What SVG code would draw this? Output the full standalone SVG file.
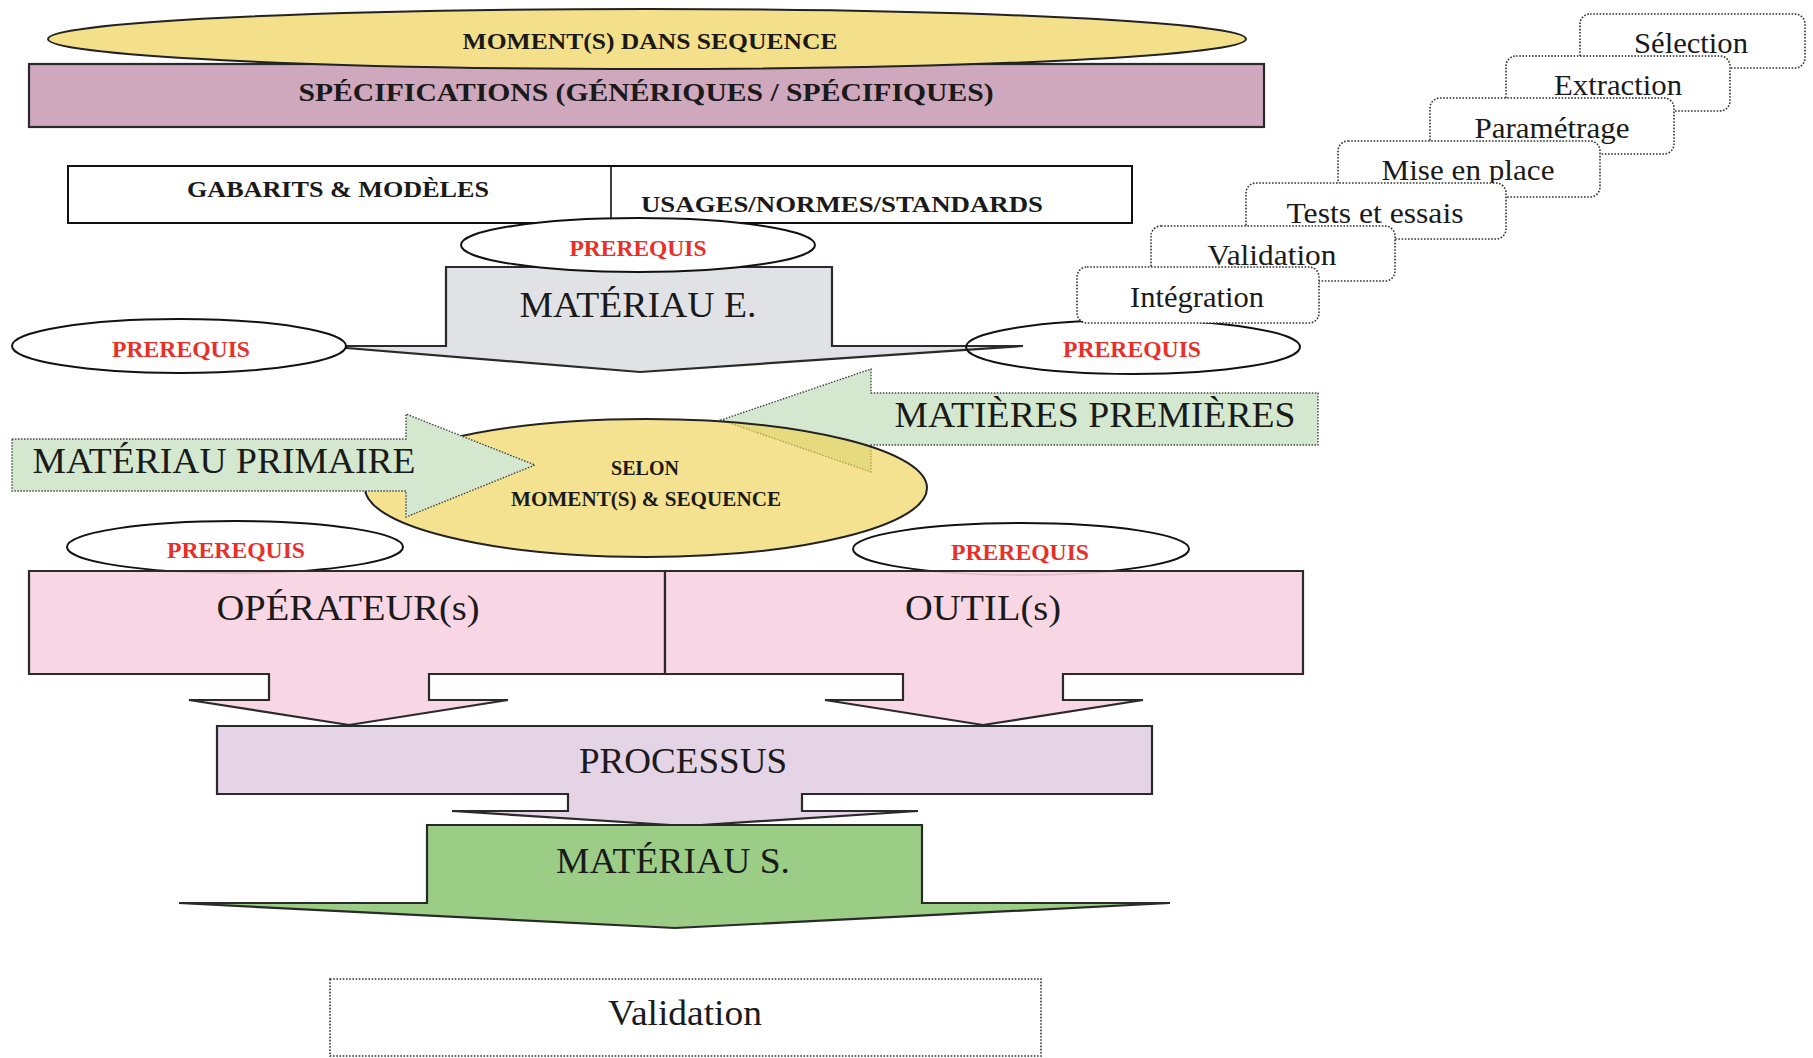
<svg xmlns="http://www.w3.org/2000/svg" width="1813" height="1058" viewBox="0 0 1813 1058">
<style>
.b{font-family:"Liberation Serif","Times New Roman",serif;font-weight:bold;fill:#1a1a1a;text-anchor:middle}
.r{font-family:"Liberation Serif","Times New Roman",serif;fill:#1a1a1a;text-anchor:middle}
.red{font-family:"Liberation Serif","Times New Roman",serif;font-weight:bold;fill:#e8302a;text-anchor:middle;font-size:23.5px}
.ell{fill:#fff;stroke:#111;stroke-width:2}
.dot{fill:#fff;stroke:#333;stroke-width:1.6;stroke-dasharray:1.6 1.6}
.solid{stroke:#2a2a2a;stroke-width:2.2;stroke-linejoin:miter}
.greenarrow{fill:#d3e8cf;stroke:#444;stroke-width:1.4;stroke-dasharray:1.5 1.5}
</style>
<rect width="1813" height="1058" fill="#fff"/>

<g id="specifications">
  <rect x="29" y="64" width="1235" height="63" fill="#cfa8bd" class="solid"/>
  <text x="646" y="101" class="b" font-size="26" textLength="695" lengthAdjust="spacingAndGlyphs">SPÉCIFICATIONS (GÉNÉRIQUES / SPÉCIFIQUES)</text>
</g>

<g id="moments-sequence">
  <ellipse cx="647" cy="39" rx="599" ry="30" fill="#f4df8a" stroke="#222" stroke-width="2"/>
  <text x="650" y="49" class="b" font-size="24" textLength="375" lengthAdjust="spacingAndGlyphs">MOMENT(S) DANS SEQUENCE</text>
</g>

<g id="gabarits-usages">
  <rect x="68" y="166" width="1064" height="57" fill="#fff" stroke="#111" stroke-width="2"/>
  <line x1="611" y1="166" x2="611" y2="223" stroke="#111" stroke-width="1.6"/>
  <text x="338" y="197" class="b" font-size="24" textLength="302" lengthAdjust="spacingAndGlyphs">GABARITS &amp; MODÈLES</text>
  <text x="842" y="212" class="b" font-size="24" textLength="402" lengthAdjust="spacingAndGlyphs">USAGES/NORMES/STANDARDS</text>
</g>

<g id="materiau-e">
  <path d="M446,267 H832 V346 H1023 L640,372 L347,348 V346 H446 Z" fill="#e1e2e6" class="solid"/>
  <text x="638" y="317" class="r" font-size="36" textLength="237" lengthAdjust="spacingAndGlyphs">MATÉRIAU E.</text>
</g>

<g id="prerequis-top">
  <ellipse cx="638" cy="245" rx="177" ry="27" class="ell"/>
  <text x="638" y="256" class="red" textLength="137" lengthAdjust="spacingAndGlyphs">PREREQUIS</text>
</g>
<g id="prerequis-left">
  <ellipse cx="179" cy="346" rx="167" ry="27" class="ell"/>
  <text x="181" y="357" class="red" textLength="138" lengthAdjust="spacingAndGlyphs">PREREQUIS</text>
</g>
<g id="prerequis-right">
  <ellipse cx="1133" cy="347" rx="167" ry="27" fill="none" stroke="#111" stroke-width="2"/>
  <text x="1132" y="357" class="red" textLength="138" lengthAdjust="spacingAndGlyphs">PREREQUIS</text>
</g>

<g id="matieres-premieres">
  <path d="M1318,393 V445 H871 V472 L721,420 L871,369 V393 Z" class="greenarrow"/>
  <text x="1095" y="427" class="r" font-size="36" textLength="401" lengthAdjust="spacingAndGlyphs">MATIÈRES PREMIÈRES</text>
</g>

<g id="selon">
  <ellipse cx="646" cy="488" rx="281" ry="69" fill="#f0d255" fill-opacity="0.65" stroke="#222" stroke-width="2"/>
  <text x="645" y="475" class="b" font-size="20">SELON</text>
  <text x="646" y="506" class="b" font-size="20" textLength="270" lengthAdjust="spacingAndGlyphs">MOMENT(S) &amp; SEQUENCE</text>
</g>

<g id="materiau-primaire">
  <path d="M12,439 H406 V414 L535,465 L406,517 V491 H12 Z" class="greenarrow"/>
  <text x="224" y="473" class="r" font-size="36" textLength="383" lengthAdjust="spacingAndGlyphs">MATÉRIAU PRIMAIRE</text>
</g>

<g id="prerequis-operateur">
  <ellipse cx="235" cy="547" rx="168" ry="26" class="ell"/>
  <text x="236" y="558" class="red" textLength="138" lengthAdjust="spacingAndGlyphs">PREREQUIS</text>
</g>
<g id="prerequis-outil">
  <ellipse cx="1021" cy="549" rx="168" ry="26" class="ell"/>
  <text x="1020" y="560" class="red" textLength="138" lengthAdjust="spacingAndGlyphs">PREREQUIS</text>
</g>

<g id="operateurs">
  <path d="M29,571 H665 V674 H429 V700 H508 L349,725 L189,700 H269 V674 H29 Z" fill="#f7d1e1" fill-opacity="0.9" class="solid"/>
  <text x="348" y="620" class="r" font-size="36" textLength="263" lengthAdjust="spacingAndGlyphs">OPÉRATEUR(s)</text>
</g>
<g id="outils">
  <path d="M665,571 H1303 V674 H1063 V700 H1143 L983,725 L825,700 H903 V674 H665 Z" fill="#f7d1e1" fill-opacity="0.9" class="solid"/>
  <text x="983" y="620" class="r" font-size="36" textLength="156" lengthAdjust="spacingAndGlyphs">OUTIL(s)</text>
</g>

<g id="processus">
  <path d="M217,726 H1152 V794 H802 V811 H918 L686,826 L452,811 H568 V794 H217 Z" fill="#e5d3e6" class="solid"/>
  <text x="683" y="773" class="r" font-size="36" textLength="208" lengthAdjust="spacingAndGlyphs">PROCESSUS</text>
</g>

<g id="materiau-s">
  <path d="M427,825 H922 V903 H1170 L675,928 L179,903 H427 Z" fill="#9ccd87" class="solid"/>
  <text x="673" y="873" class="r" font-size="36" textLength="234" lengthAdjust="spacingAndGlyphs">MATÉRIAU S.</text>
</g>

<g id="validation-finale">
  <rect x="330" y="979" width="711" height="77" class="dot"/>
  <text x="685" y="1025" class="r" font-size="36" textLength="154" lengthAdjust="spacingAndGlyphs">Validation</text>
</g>

<g id="etapes">
  <g id="etape-selection">
    <rect x="1580" y="14" width="225" height="54" rx="10" class="dot"/>
    <text x="1691" y="53" class="r" font-size="30" textLength="114" lengthAdjust="spacingAndGlyphs">Sélection</text>
  </g>
  <g id="etape-extraction">
    <rect x="1506" y="56" width="224" height="55" rx="10" class="dot"/>
    <text x="1618" y="95" class="r" font-size="30" textLength="128" lengthAdjust="spacingAndGlyphs">Extraction</text>
  </g>
  <g id="etape-parametrage">
    <rect x="1430" y="98" width="244" height="56" rx="10" class="dot"/>
    <text x="1552" y="138" class="r" font-size="30" textLength="155" lengthAdjust="spacingAndGlyphs">Paramétrage</text>
  </g>
  <g id="etape-mise-en-place">
    <rect x="1338" y="141" width="262" height="56" rx="10" class="dot"/>
    <text x="1468" y="180" class="r" font-size="30" textLength="173" lengthAdjust="spacingAndGlyphs">Mise en place</text>
  </g>
  <g id="etape-tests">
    <rect x="1246" y="183" width="260" height="56" rx="10" class="dot"/>
    <text x="1375" y="223" class="r" font-size="30" textLength="177" lengthAdjust="spacingAndGlyphs">Tests et essais</text>
  </g>
  <g id="etape-validation">
    <rect x="1151" y="226" width="244" height="55" rx="10" class="dot"/>
    <text x="1272" y="265" class="r" font-size="30" textLength="129" lengthAdjust="spacingAndGlyphs">Validation</text>
  </g>
  <g id="etape-integration">
    <rect x="1077" y="267" width="242" height="56" rx="10" class="dot"/>
    <text x="1197" y="307" class="r" font-size="30" textLength="134" lengthAdjust="spacingAndGlyphs">Intégration</text>
  </g>
</g>

<g id="connectors"></g>
</svg>
